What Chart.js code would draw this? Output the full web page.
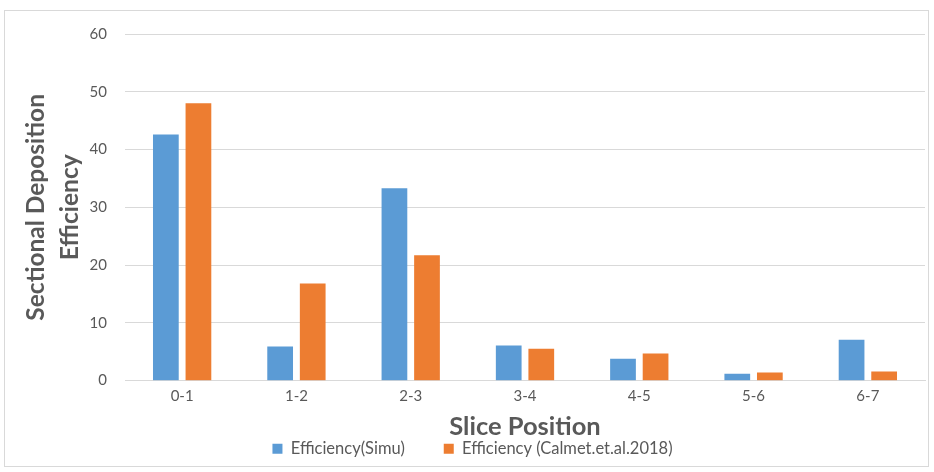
<!DOCTYPE html>
<html>
<head>
    <title>Sectional Deposition Efficiency</title>
    <script src="https://cdn.jsdelivr.net/npm/chart.js"></script>
    <style>
        body { margin: 0; background: #fff; }
        #wrap { width: 934px; height: 472px; }
    </style>
</head>
<body>
    <div id="wrap"><canvas id="effChart" width="934" height="472"></canvas></div>
    <script>
        // data
        const slices = ['0-1', '1-2', '2-3', '3-4', '4-5', '5-6', '6-7'];
        const simu = [42.6, 5.9, 33.3, 6.1, 3.8, 1.2, 7.1];
        const calmet = [48.0, 16.8, 21.7, 5.5, 4.7, 1.4, 1.6];
        const yTicks = [0, 10, 20, 30, 40, 50, 60];

        const grey = '#595959';
        const fontName = 'Lato, "Open Sans", sans-serif';

        // light frame round the whole chart
        const frame = {
            id: 'frame',
            beforeDraw(chart) {
                const c = chart.ctx;
                c.save();
                c.fillStyle = '#fff';
                c.fillRect(0, 0, chart.width, chart.height);
                c.strokeStyle = '#d9d9d9';
                c.lineWidth = 1;
                c.strokeRect(4.5, 10.5, 924, 456);
                c.restore();
            }
        };

        const ctx = document.getElementById('effChart').getContext('2d');
        new Chart(ctx, {
            type: 'bar',
            data: {
                labels: slices,
                datasets: [
                    // trailing spaces widen the gap between legend entries
                    { label: 'Efficiency(Simu)        ', data: simu, backgroundColor: '#5b9bd5' },
                    { label: 'Efficiency (Calmet.et.al.2018)', data: calmet, backgroundColor: '#ed7d31' }
                ]
            },
            options: {
                responsive: false,
                animation: false,
                categoryPercentage: 0.57,
                barPercentage: 0.79,
                layout: { padding: { left: 20, right: 9, top: 34, bottom: 5 } },
                plugins: {
                    legend: {
                        position: 'bottom',
                        labels: {
                            color: grey,
                            font: { family: fontName, size: 16.5 },
                            boxWidth: 10,
                            boxHeight: 10,
                            padding: 5
                        }
                    },
                    tooltip: { enabled: false }
                },
                scales: {
                    x: {
                        grid: { display: false },
                        border: { color: '#d9d9d9' },
                        ticks: { color: grey, font: { family: fontName, size: 15, lineHeight: 1.0 }, padding: 0 },
                        title: {
                            display: true, text: 'Slice Position', color: grey,
                            font: { family: fontName, size: 25.5, weight: 'bold', lineHeight: 0.7 },
                            padding: { top: 14, bottom: 0 }
                        }
                    },
                    y: {
                        min: 0, max: 60,
                        afterBuildTicks(axis) { axis.ticks = yTicks.map(v => ({ value: v })); },
                        afterFit(axis) { axis.width = 105; },
                        grid: { color: '#d9d9d9', drawTicks: false },
                        border: { display: false },
                        ticks: { color: grey, font: { family: fontName, size: 15 }, padding: 18 },
                        title: {
                            display: true, text: ['Sectional Deposition', 'Efficiency'], color: grey,
                            font: { family: fontName, size: 24.5, weight: 'bold', lineHeight: 1.35 },
                            padding: { top: 0, bottom: 0 }
                        }
                    }
                }
            },
            plugins: [frame]
        });
    </script>
</body>
</html>
